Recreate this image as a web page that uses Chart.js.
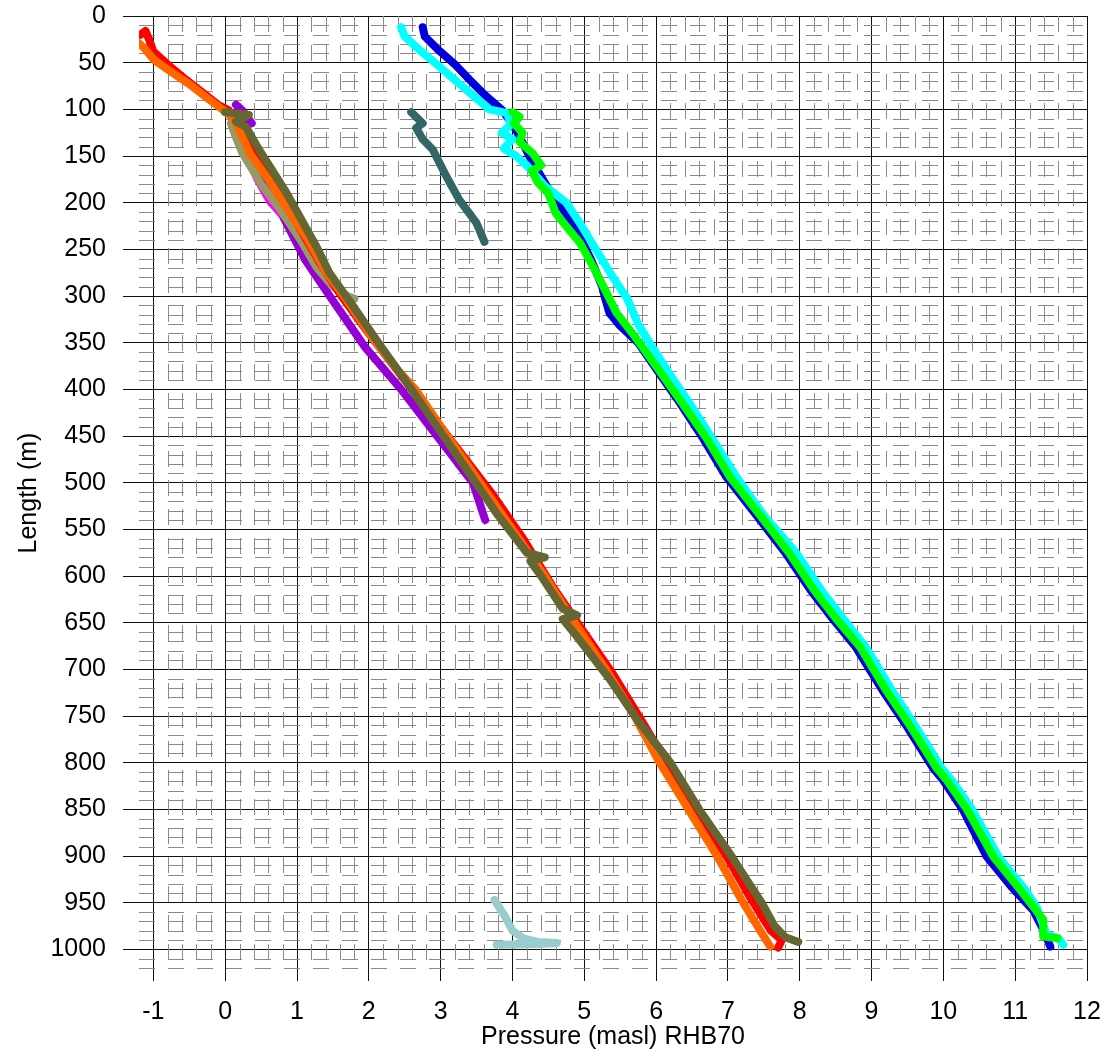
<!DOCTYPE html>
<html lang="en">
<head>
    <meta charset="UTF-8">
    <title>Length vs pressure RHB70</title>
    <style>
        html, body {
            margin: 0;
            padding: 0;
            background-color: white;
        }
        #chart {
            display: block;
        }
    </style>
    <script src="https://cdn.jsdelivr.net/npm/chart.js@4/dist/chart.umd.min.js"></script>
</head>
<body>
    <canvas id="chart" width="1106" height="1057"></canvas>
    <script>
        // tick labels
        const xTickValues = [-1, 0, 1, 2, 3, 4, 5, 6, 7, 8, 9, 10, 11, 12];
        const yTickValues = [0, 50, 100, 150, 200, 250, 300, 350, 400, 450, 500, 550, 600, 650, 700, 750, 800, 850, 900, 950, 1000];

        // series as [pressure, length] pairs
        const purple = [[0.15, 95], [0.25, 102], [0.37, 115], [0.2, 118], [0.17, 128], [0.42, 165], [0.76, 208], [1.12, 262], [1.5, 305], [1.95, 355], [2.45, 400], [2.95, 450], [3.45, 500], [3.62, 540]];
        const magenta = [[0.12, 110], [0.25, 140], [0.45, 175], [0.62, 198], [0.78, 212]];
        const khaki = [[0.08, 115], [0.15, 130], [0.24, 147], [0.5, 180], [0.8, 211], [1.05, 240], [1.27, 269], [1.5, 290], [1.7, 300], [1.8, 303]];
        const red = [[-1.18, 20], [-1.11, 16], [-1.06, 25], [-1.0, 38], [-0.8, 52], [-0.55, 68], [-0.3, 83], [-0.1, 95], [0.05, 101], [0.15, 112], [0.25, 128], [0.45, 155], [0.7, 185], [1.0, 222], [1.3, 262], [1.6, 298], [1.95, 335], [2.3, 370], [2.7, 410], [3.2, 460], [3.7, 510], [4.15, 560], [4.55, 610], [4.95, 655], [5.4, 705], [5.8, 755], [6.15, 800], [6.55, 850], [6.98, 900], [7.33, 947], [7.6, 980], [7.75, 990], [7.7, 998]];
        const orange = [[-1.30, 17], [-1.26, 25], [-1.12, 35], [-0.99, 47], [-0.75, 60], [-0.50, 73], [-0.25, 88], [-0.04, 100], [0.12, 110], [0.18, 120], [0.35, 148], [0.61, 176], [0.85, 205], [1.13, 237], [1.41, 275], [1.70, 305], [2.05, 345], [2.35, 375], [2.65, 400], [3.05, 445], [3.55, 500], [4.0, 550], [4.45, 600], [4.85, 648], [5.3, 700], [5.7, 750], [6.05, 800], [6.45, 850], [6.85, 900], [7.19, 947], [7.45, 980], [7.59, 997]];
        const olive = [[0.0, 103], [0.33, 106], [0.15, 113], [0.29, 119], [0.47, 143], [0.85, 189], [1.27, 247], [1.45, 275], [1.8, 313], [2.15, 352], [2.55, 395], [2.95, 440], [3.4, 490], [3.8, 535], [4.2, 575], [4.45, 580], [4.25, 584], [4.4, 600], [4.7, 635], [4.9, 642], [4.7, 646], [4.9, 665], [5.35, 710], [5.75, 755], [6.2, 800], [6.6, 850], [7.05, 900], [7.3, 930], [7.47, 950], [7.65, 975], [7.8, 987], [7.98, 992]];
        const slate = [[2.59, 103], [2.75, 115], [2.66, 120], [2.75, 132], [2.89, 143], [3.08, 172], [3.26, 197], [3.5, 222], [3.61, 242]];
        const teal = [[3.75, 947], [3.9, 965], [4.0, 980], [4.15, 988], [4.35, 992], [4.62, 993], [4.3, 994.5], [3.78, 995]];
        const blue = [[2.75, 12], [2.78, 22], [2.95, 35], [3.2, 52], [3.4, 68], [3.62, 85], [3.86, 101], [4.05, 122], [4.24, 151], [4.5, 185], [4.75, 212], [4.95, 238], [5.1, 262], [5.25, 290], [5.3, 305], [5.35, 318], [5.5, 332], [5.75, 350], [6.0, 378], [6.3, 411], [6.65, 452], [6.98, 494], [7.4, 535], [7.8, 575], [8.15, 615], [8.45, 645], [8.78, 676], [9.15, 722], [9.5, 762], [9.85, 805], [10.0, 819], [10.27, 850], [10.6, 900], [10.95, 933], [11.25, 958], [11.4, 980], [11.49, 997]];
        const cyan = [[2.45, 12], [2.5, 22], [2.7, 36], [2.95, 52], [3.19, 68], [3.45, 85], [3.68, 100], [3.93, 104], [3.97, 117], [3.85, 125], [4.0, 132], [3.88, 142], [4.05, 150], [4.2, 160], [4.45, 182], [4.75, 200], [4.94, 222], [5.2, 255], [5.4, 280], [5.6, 303], [5.75, 330], [5.95, 355], [6.2, 385], [6.45, 413], [6.8, 455], [7.12, 494], [7.5, 535], [7.95, 575], [8.3, 615], [8.6, 645], [8.92, 676], [9.28, 722], [9.62, 762], [9.97, 805], [10.12, 819], [10.4, 850], [10.77, 901], [11.14, 936], [11.3, 955], [11.44, 984], [11.6, 988], [11.67, 995]];
        const green = [[4.0, 103], [4.1, 108], [4.02, 115], [4.14, 125], [4.1, 135], [4.28, 147], [4.4, 160], [4.27, 166], [4.35, 178], [4.5, 190], [4.6, 211], [4.8, 230], [4.94, 243], [5.12, 268], [5.3, 295], [5.45, 318], [5.7, 343], [6.0, 375], [6.33, 411], [6.7, 452], [7.03, 494], [7.45, 535], [7.85, 575], [8.2, 615], [8.5, 645], [8.84, 676], [9.2, 722], [9.55, 762], [9.9, 805], [10.05, 819], [10.33, 850], [10.7, 901], [11.07, 936], [11.39, 968], [11.39, 986], [11.59, 988]];

        // bottom to top, like the excel series order
        const series = [
            { data: purple, color: '#9400d3' },
            { data: magenta, color: '#ff00ff' },
            { data: khaki, color: '#999966' },
            { data: red, color: '#ff0000' },
            { data: orange, color: '#ff6600' },
            { data: olive, color: '#666633' },
            { data: slate, color: '#336666' },
            { data: teal, color: '#99cccc' },
            { data: blue, color: '#0000dd' },
            { data: cyan, color: '#00ffff' },
            { data: green, color: '#00ff00' }
        ];

        const font = { family: 'Arial, "Liberation Sans", sans-serif', size: 25 };

        // dashed minor grid every 0.2 / every 10, drawn under the lines
        const minorGrid = {
            id: 'minorGrid',
            beforeDatasetsDraw(chart) {
                const { ctx, chartArea: a, scales: { x, y } } = chart;
                ctx.save();
                ctx.strokeStyle = '#8a8a8a';
                ctx.lineWidth = 1;
                ctx.setLineDash([16, 13]);
                for (let i = 1; i * 10 < y.max; i++) {
                    if (i % 5 === 0) continue;
                    const py = Math.round(y.getPixelForValue(i * 10)) + 0.5;
                    ctx.beginPath();
                    ctx.moveTo(a.left, py);
                    ctx.lineTo(a.right, py);
                    ctx.stroke();
                }
                for (let i = -6; i < 60; i++) {
                    if (i % 5 === 0) continue;
                    const v = i * 0.2;
                    if (v <= x.min) continue;
                    const px = Math.round(x.getPixelForValue(v)) + 0.5;
                    ctx.beginPath();
                    ctx.moveTo(px, a.top);
                    ctx.lineTo(px, a.bottom);
                    ctx.stroke();
                }
                ctx.restore();
            }
        };

        new Chart(document.getElementById('chart'), {
            type: 'scatter',
            data: {
                datasets: series.map((s, i) => ({
                    data: s.data.map(p => ({ x: p[0], y: p[1] })),
                    showLine: true,
                    borderColor: s.color,
                    backgroundColor: s.color,
                    borderWidth: 8,
                    borderCapStyle: 'round',
                    borderJoinStyle: 'round',
                    pointRadius: 0,
                    fill: false,
                    tension: 0,
                    order: series.length - i
                }))
            },
            options: {
                responsive: false,
                animation: false,
                devicePixelRatio: 1,
                layout: { padding: { top: 16, right: 19, left: 0, bottom: 0 } },
                plugins: {
                    legend: { display: false },
                    tooltip: { enabled: false }
                },
                scales: {
                    x: {
                        type: 'linear',
                        position: 'bottom',
                        min: -1.2,
                        max: 12,
                        afterBuildTicks: axis => { axis.ticks = xTickValues.map(v => ({ value: v })); },
                        afterFit: axis => {
                            axis.height = 87;
                            axis.paddingLeft = 0;
                            axis.paddingRight = 0;
                        },
                        border: { display: false },
                        grid: { color: '#111', lineWidth: 1, tickLength: 11, tickColor: '#111' },
                        ticks: { color: '#000', font: font, padding: 16, maxRotation: 0, callback: v => String(v) },
                        title: {
                            display: true,
                            text: 'Pressure (masl) RHB70',
                            color: '#000',
                            font: font,
                            padding: { top: 0, bottom: 5 }
                        }
                    },
                    y: {
                        type: 'linear',
                        reverse: true,
                        min: 0,
                        max: 1022,
                        afterBuildTicks: axis => { axis.ticks = yTickValues.map(v => ({ value: v })); },
                        afterFit: axis => {
                            axis.width = 139;
                            axis.paddingTop = 0;
                            axis.paddingBottom = 0;
                        },
                        border: { display: false },
                        grid: { color: '#111', lineWidth: 1, tickLength: 16, tickColor: '#111' },
                        ticks: { color: '#000', font: font, padding: 17, callback: v => String(v) },
                        title: {
                            display: true,
                            text: 'Length (m)',
                            color: '#000',
                            font: font,
                            padding: { top: 14, bottom: 0 }
                        }
                    }
                }
            },
            plugins: [minorGrid]
        });
    </script>
</body>
</html>
